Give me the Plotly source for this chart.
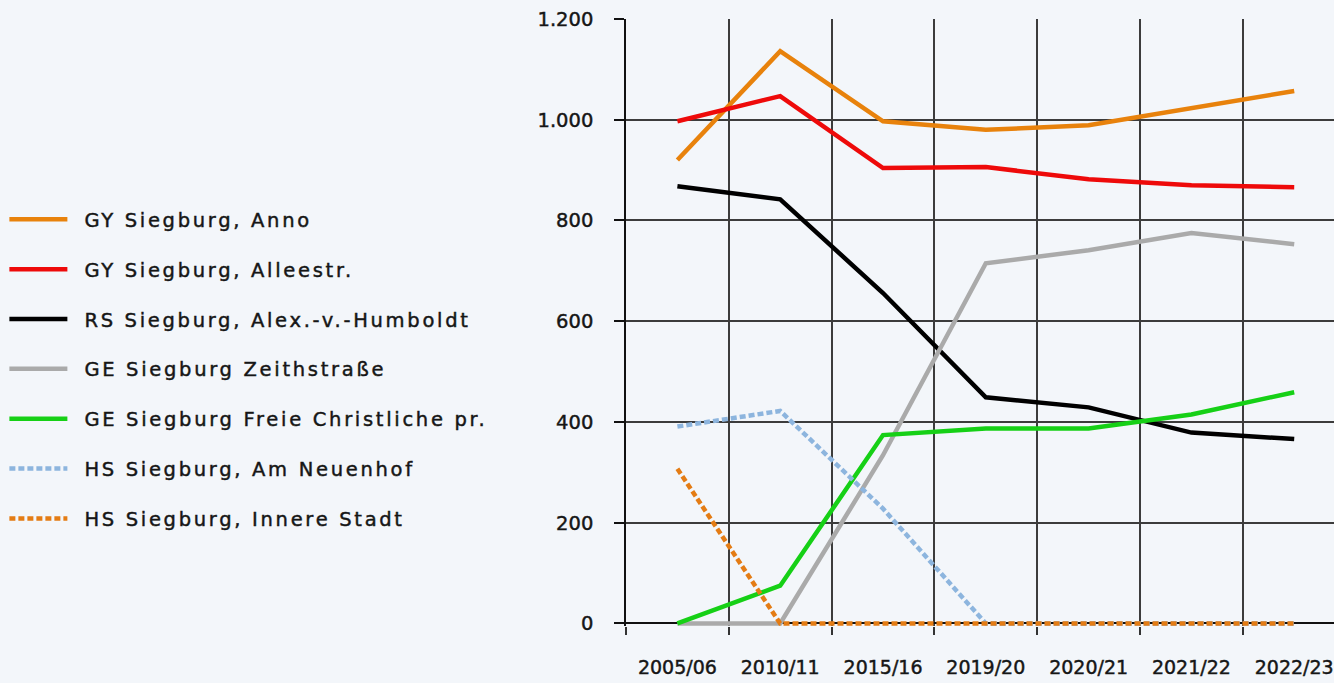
import plotly.graph_objects as go

years = ["2005/06", "2010/11", "2015/16", "2019/20", "2020/21", "2021/22", "2022/23"]

gy_anno = [920, 1136, 997, 980, 989, 1023, 1057]
gy_allee = [997, 1047, 904, 906, 882, 870, 866]
rs_humboldt = [868, 842, 656, 449, 429, 379, 366]
ge_zeith = [0, 0, 334, 715, 741, 775, 753]
ge_freie = [0, 75, 374, 387, 387, 415, 459]
hs_neuenhof = [391, 422, 228, 0, 0, 0, 0]
hs_innere = [307, 0, 0, 0, 0, 0, 0]

series = [
    ("GY Siegburg, Anno", gy_anno, "#E8820C", "solid"),
    ("GY Siegburg, Alleestr.", gy_allee, "#EE0A0A", "solid"),
    ("RS Siegburg, Alex.-v.-Humboldt", rs_humboldt, "#000000", "solid"),
    ("GE Siegburg Zeithstraße", ge_zeith, "#AAAAAA", "solid"),
    ("GE Siegburg Freie Christliche pr.", ge_freie, "#16D016", "solid"),
    ("HS Siegburg, Am Neuenhof", hs_neuenhof, "#8DB5DE", "6px,3px"),
    ("HS Siegburg, Innere Stadt", hs_innere, "#E47C14", "6px,3px"),
]

bg = "#F3F6FA"
fig = go.Figure()
for i, (name, vals, col, dash) in enumerate(series):
    fig.add_trace(go.Scatter(
        x=years, y=vals, name=name, mode="lines", legendgroup=str(i),
        line=dict(color=col, width=4.5, dash=dash),
    ))

fig.update_layout(
    width=1334, height=683,
    margin=dict(l=626, r=0, t=19, b=57),
    paper_bgcolor=bg, plot_bgcolor=bg,
    separators=",.",
    font=dict(family="DejaVu Sans", color="#161616"),
    showlegend=True,
    legend=dict(
        x=-0.878, xanchor="left", y=0.4232, yanchor="middle",
        font=dict(size=19.5, family="DejaVu Sans", color="#161616"),
        tracegroupgap=21.5, itemwidth=58, bgcolor="rgba(0,0,0,0)",
    ),
    xaxis=dict(
        type="category", range=[-0.5, 6.387], tickson="boundaries",
        showgrid=True, gridcolor="#3C3C3C", gridwidth=1.6,
        ticks="outside", ticklen=8, tickcolor="#333333", tickwidth=1.6,
        showline=False, zeroline=False,
        tickfont=dict(size=19, family="DejaVu Sans", color="#161616"),
        ticklabelstandoff=28,
    ),
    yaxis=dict(
        range=[-5, 1200], tickvals=[0, 200, 400, 600, 800, 1000, 1200],
        separatethousands=True, tickformat=",d",
        showgrid=True, gridcolor="#3C3C3C", gridwidth=1.6,
        ticks="outside", ticklen=10, tickcolor="#111111", tickwidth=1.6,
        showline=True, linecolor="#111111", linewidth=1.6,
        zeroline=True, zerolinecolor="#111111", zerolinewidth=1.8,
        tickfont=dict(size=19.5, family="DejaVu Sans", color="#161616"),
        ticklabelstandoff=17,
    ),
)

post = """
document.body.style.margin = '0';
document.body.style.background = '#F3F6FA';
var st = document.createElement('style');
st.textContent = '.legendtext{letter-spacing:2.7px;}' +
  '.legendtext, .xtick text, .ytick text{stroke:#161616; stroke-width:0.45px;}';
document.head.appendChild(st);
document.querySelectorAll('.legend .scrollbox, .legend').forEach(function(e){
  e.removeAttribute('clip-path');
});
document.querySelectorAll('.legendtext').forEach(function(t){
  var x = parseFloat(t.getAttribute('x') || '0');
  t.setAttribute('x', x + 12);
});
"""

fig.write_html("out.html", post_script=post, config={"displayModeBar": False})
